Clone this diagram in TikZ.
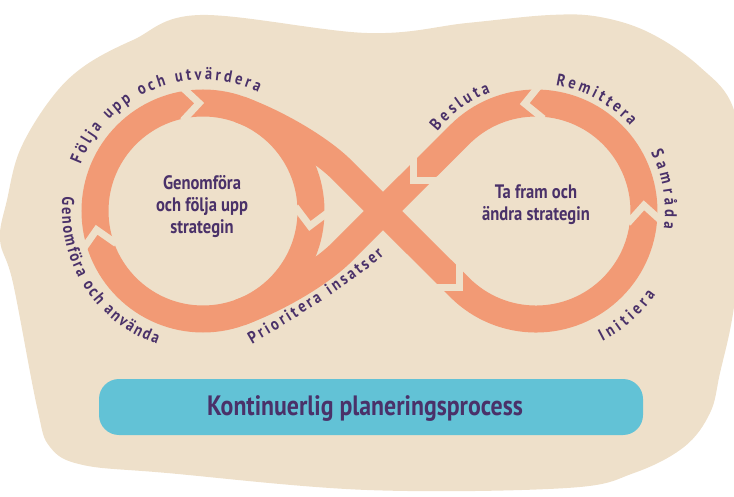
\documentclass[tikz,border=0pt]{standalone}
\usepackage{fontspec}
\newfontfamily\hand[FakeStretch=0.85]{PT Sans}
\usetikzlibrary{decorations.text,calc}
\definecolor{bg}{HTML}{EEE0CA}
\definecolor{orng}{HTML}{F29A75}
\definecolor{txt}{HTML}{4A3169}
\definecolor{boxblue}{HTML}{62C2D6}
\newcommand\lblfont{\color{txt}\hand\bfseries\fontsize{17}{17}\selectfont}
\newcommand\chev[2]{\draw[gapline] ($(#1)+(#2+135:24)$) -- (#1) -- ($(#1)+(#2-135:24)$);}
\begin{document}
\begin{tikzpicture}[x=1pt,y=1pt,
  band/.style={draw=orng,line width=27pt},
  gapline/.style={draw=bg,line width=7pt,miter limit=10},
  lbl/.style={decorate},
  centertext/.style={text=txt,align=center,font=\hand\bfseries\fontsize{19.5}{22}\selectfont}]
\useasboundingbox (0,0) rectangle (734,496);
% background blob
\fill[bg] plot[smooth cycle, tension=0.6] coordinates {
 (200,481) (367,463) (467,473) (550,481) (600,479) (650,463) (700,429) (734,386)
 (745,296) (734,189) (720,123) (710,83) (684,49) (634,23) (567,8) (367,6)
 (167,23) (83,31) (50,49) (37,89) (13,213) (0,256) (7,296) (20,346) (50,396)
 (83,429) (133,456)};
% key points
\coordinate (L) at (203,285);
\coordinate (R) at (536,285);
\coordinate (C) at (383,285);
\coordinate (B0) at (239.9,386.5);
\coordinate (D1a) at (342,326);
\coordinate (RT1) at (459.6,208.6);
\coordinate (D2a) at (342,244);
\coordinate (B1) at (239.9,183.5);
% bands
\draw[band] (L) circle[radius=108];
\draw[band] (B0) .. controls (277.5,372.9) and (320.8,347.2) .. (D1a) -- (C) -- (RT1)
  arc[start angle=225,end angle=495,radius=108] -- (C) -- (D2a)
  .. controls (320.8,222.8) and (277.5,197.1) .. (B1);
% joints
\coordinate (J1) at (199.2,392.9);
\coordinate (J2) at (309.9,270);
\coordinate (J3) at (96.6,266.2);
\coordinate (J4) at (524.7,392.4);
\coordinate (J5) at (643.9,290.7);
\coordinate (J6) at (413,315);
\coordinate (J7) at (459.6,208.6);
\chev{J1}{2}
\chev{J2}{-98}
\chev{J3}{100}
\chev{J4}{186}
\chev{J5}{93}
\chev{J6}{225}
\chev{J7}{-45}
% curved labels
\path[lbl,decoration={text along path,text align={fit to path},text={|\lblfont|Följa upp och utvärdera}}]
  ($(L)+(159:131)$) arc[start angle=159,end angle=65,radius=131];
\path[lbl,decoration={text along path,text align={fit to path},text={|\lblfont|Genomföra och använda}}]
  ($(L)+(174:141)$) arc[start angle=174,end angle=251,radius=141];
\path[lbl,decoration={text along path,text align={fit to path},text={|\lblfont|Prioritera insatser}}]
  (252,152) .. controls (291,174.5) and (354.3,214.2) .. (384,241);
\path[lbl,decoration={text along path,text align={fit to path},text={|\lblfont|Besluta}}]
  ($(R)+(141:127)$) arc[start angle=141,end angle=111,radius=127];
\path[lbl,decoration={text along path,text align={fit to path},text={|\lblfont|Remittera}}]
  ($(R)+(81:127)$) arc[start angle=81,end angle=42,radius=127];
\path[lbl,decoration={text along path,text align={fit to path},text={|\lblfont|Samråda}}]
  ($(R)+(27:129)$) arc[start angle=27,end angle=-8,radius=129];
\path[lbl,decoration={text along path,text align={fit to path},text={|\lblfont|Initiera}}]
  ($(R)+(-63:146)$) arc[start angle=-63,end angle=-35,radius=146];
% centre texts
\node[centertext] (lefttext) at (202,289) {Genomföra\\och följa upp\\strategin};
\node[centertext] (righttext) at (536,291) {Ta fram och\\ändra strategin};
% bottom box
\node[fill=boxblue,rounded corners=20pt,minimum width=544pt,minimum height=56pt,inner sep=0pt] (box) at (371,89) {};
\node[text=txt,anchor=base,font=\hand\bfseries\fontsize{28}{28}\selectfont] (title) at (365,81) {Kontinuerlig planeringsprocess};
\end{tikzpicture}
\end{document}
